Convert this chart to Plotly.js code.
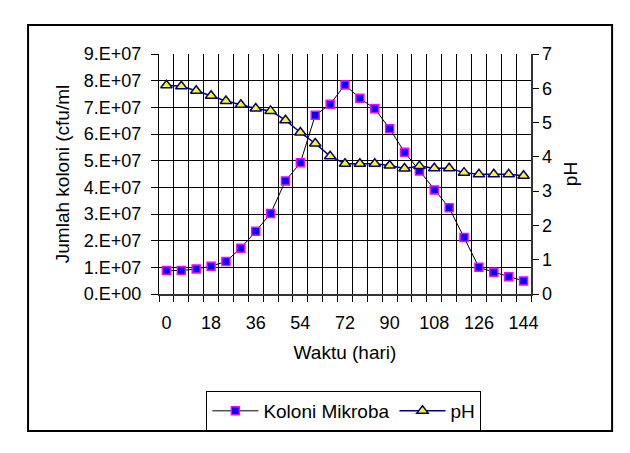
<!DOCTYPE html>
<html>
<head>
<meta charset="utf-8">
<script src="https://cdn.plot.ly/plotly-3.0.1.min.js"></script>
<style>html,body{margin:0;padding:0;background:#fff}#chart{width:630px;height:453px}</style>
</head>
<body>
<div id="chart"></div>
<script>
// Waktu (hari)
var days = [0,6,12,18,24,30,36,42,48,54,60,66,72,78,84,90,96,102,108,114,120,126,132,138,144];
// Koloni Mikroba (cfu/ml)
var koloni = [8.8e6,8.8e6,9.4e6,1.04e7,1.22e7,1.72e7,2.35e7,3.02e7,4.24e7,4.92e7,6.70e7,7.12e7,7.84e7,7.34e7,6.95e7,6.20e7,5.32e7,4.61e7,3.90e7,3.23e7,2.12e7,1.00e7,8.2e6,6.5e6,4.9e6];
// pH
var ph = [6.09,6.06,5.93,5.78,5.63,5.52,5.41,5.34,5.07,4.71,4.39,4.02,3.80,3.80,3.80,3.75,3.66,3.73,3.67,3.67,3.54,3.49,3.49,3.49,3.45];
// tick labels
var xTickVals = [0,18,36,54,72,90,108,126,144];
var xTickText = ['0','18','36','54','72','90','108','126','144'];
var yTickVals = [0,1e7,2e7,3e7,4e7,5e7,6e7,7e7,8e7,9e7];
var yTickText = ['0.E+00','1.E+07','2.E+07','3.E+07','4.E+07','5.E+07','6.E+07','7.E+07','8.E+07','9.E+07'];
var y2TickVals = [0,1,2,3,4,5,6,7];

var font = 'Arial, "Liberation Sans", sans-serif';
var traces = [
  {x: days, y: koloni, name: 'Koloni Mikroba', type: 'scatter', mode: 'lines+markers', yaxis: 'y',
   line: {color: '#000000', width: 1},
   marker: {symbol: 'square', size: 8, color: '#0000FF', line: {color: '#FF00FF', width: 1.5}}},
  {x: days, y: ph, name: 'pH', type: 'scatter', mode: 'lines+markers', yaxis: 'y2',
   line: {color: '#000080', width: 1.5},
   marker: {symbol: 'triangle-up', size: 10, color: '#FFFF00', line: {color: '#000080', width: 1.5}}}
];
var layout = {
  width: 630, height: 453,
  margin: {l: 159, r: 99, t: 54, b: 159},
  paper_bgcolor: '#ffffff', plot_bgcolor: '#ffffff',
  font: {family: font, size: 18, color: '#000'},
  showlegend: true,
  legend: {orientation: 'h', x: 0.497, xanchor: 'center', y: -0.404, yanchor: 'top',
           bordercolor: '#000', borderwidth: 1, bgcolor: '#fff', font: {size: 19}, itemwidth: 46,
           tracegroupgap: 0},
  xaxis: {range: [-3, 147], tickmode: 'array', tickvals: xTickVals, ticktext: xTickText,
          showgrid: false, ticks: '', zeroline: false, showline: true, linecolor: '#333', linewidth: 2,
          tickfont: {size: 18}, ticklabelstandoff: 11,
          minor: {tick0: -3, dtick: 6, showgrid: true, gridcolor: '#000', gridwidth: 1, ticks: 'outside', ticklen: 6, tickcolor: '#000'},
          title: {text: 'Waktu (hari)', font: {size: 19}, standoff: 14}},
  yaxis: {range: [0, 9e7], tickmode: 'array', tickvals: yTickVals, ticktext: yTickText,
          showgrid: true, gridcolor: '#000', gridwidth: 1, zeroline: false,
          showline: true, linecolor: '#000', linewidth: 1,
          ticks: 'outside', ticklen: 7, tickcolor: '#000', tickfont: {size: 18}, ticklabelstandoff: 6,
          title: {text: 'Jumlah koloni (cfu/ml', font: {size: 19}, standoff: 9}},
  yaxis2: {range: [0, 7], overlaying: 'y', side: 'right', tickmode: 'array', tickvals: y2TickVals,
           showgrid: false, zeroline: false, showline: true, linecolor: '#333', linewidth: 1.5,
           ticks: 'outside', ticklen: 6, tickcolor: '#000', tickfont: {size: 18},
           title: {text: 'pH', font: {size: 19}, standoff: 12}},
  yaxis3: {range: [0, 7], overlaying: 'y', side: 'right', anchor: 'x', tickmode: 'array', tickvals: y2TickVals,
           showgrid: false, zeroline: false, showline: false, showticklabels: false,
           ticks: 'inside', ticklen: 6, tickcolor: '#000'},
  shapes: [{type: 'rect', xref: 'paper', yref: 'paper', x0: -0.352, x1: 1.218, y0: -0.571, y1: 1.121,
            line: {color: '#000', width: 2}, fillcolor: 'rgba(0,0,0,0)', layer: 'below'}]
};
Plotly.newPlot('chart', traces, layout, {displayModeBar: false, staticPlot: true});
</script>
</body>
</html>
